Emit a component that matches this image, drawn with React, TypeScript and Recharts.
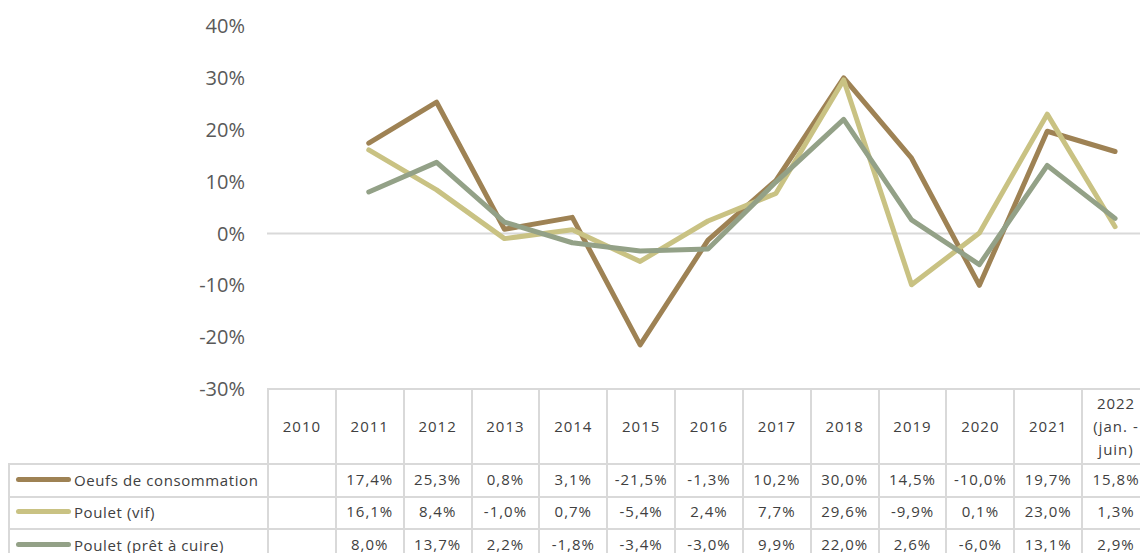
import React from "react";
import { LineChart, Line, XAxis, YAxis, ReferenceLine } from "recharts";

// categories (years) and header labels for the table
const years = ["2010", "2011", "2012", "2013", "2014", "2015", "2016", "2017", "2018", "2019", "2020", "2021", "2022"];
const headerLabels = ["2010", "2011", "2012", "2013", "2014", "2015", "2016", "2017", "2018", "2019", "2020", "2021", "2022\n(jan. -\njuin)"];

// yearly change, in %
const oeufs = [null, 17.4, 25.3, 0.8, 3.1, -21.5, -1.3, 10.2, 30.0, 14.5, -10.0, 19.7, 15.8];
const pouletVif = [null, 16.1, 8.4, -1.0, 0.7, -5.4, 2.4, 7.7, 29.6, -9.9, 0.1, 23.0, 1.3];
const pouletPac = [null, 8.0, 13.7, 2.2, -1.8, -3.4, -3.0, 9.9, 22.0, 2.6, -6.0, 13.1, 2.9];

const yTicks = [-30, -20, -10, 0, 10, 20, 30, 40];

const series = [
  { key: "oeufs", name: "Oeufs de consommation", color: "#9E8254", values: oeufs },
  { key: "vif", name: "Poulet (vif)", color: "#C9C283", values: pouletVif },
  { key: "pac", name: "Poulet (prêt à cuire)", color: "#93A187", values: pouletPac },
];

const data = years.map((y, i) => ({
  year: y,
  oeufs: oeufs[i],
  vif: pouletVif[i],
  pac: pouletPac[i],
}));

const FONT = "'Open Sans', 'Noto Sans', sans-serif";
const LEFT = 259; // width of the legend column / y axis area
const CHART_W = 1141;
const COL_W = (CHART_W - LEFT) / years.length;
const GRID = "2px solid #D9D9D9";
const rowHeights = [33, 32, 33];

const fmt = (v: number | null) => (v === null ? "" : `${v.toFixed(1).replace(".", ",")}%`);

export default function App() {
  return (
    <div
      style={{
        position: "fixed",
        top: 8,
        left: 8,
        width: 1132,
        height: 545,
        overflow: "hidden",
        fontFamily: FONT,
        background: "#fff",
      }}
    >
      <LineChart width={CHART_W} height={401} data={data} margin={{ top: 18, right: 0, bottom: 20, left: 0 }}>
        <XAxis dataKey="year" hide padding={{ left: COL_W / 2, right: COL_W / 2 }} />
        <YAxis
          width={LEFT}
          domain={[-30, 40]}
          ticks={yTicks}
          tickFormatter={(v) => `${v}%`}
          axisLine={false}
          tickLine={false}
          tickSize={0}
          tickMargin={22}
          tick={{ fontSize: 20, fill: "#595959", fontFamily: FONT }}
        />
        <ReferenceLine y={0} stroke="#D9D9D9" strokeWidth={2} />
        {series.map((s) => (
          <Line
            key={s.key}
            dataKey={s.key}
            stroke={s.color}
            strokeWidth={5}
            strokeLinecap="round"
            strokeLinejoin="round"
            dot={false}
            activeDot={false}
            isAnimationActive={false}
          />
        ))}
      </LineChart>
      <table
        style={{
          position: "absolute",
          top: 380,
          left: 0,
          borderCollapse: "collapse",
          tableLayout: "fixed",
          width: CHART_W,
          fontSize: 15,
          letterSpacing: 1,
          color: "#404040",
        }}
      >
        <colgroup>
          <col style={{ width: LEFT }} />
          {years.map((y) => (
            <col key={y} style={{ width: COL_W }} />
          ))}
        </colgroup>
        <tbody>
          <tr style={{ height: 75 }}>
            <td style={{ borderBottom: GRID }} />
            {headerLabels.map((h) => (
              <td
                key={h}
                style={{ border: GRID, textAlign: "center", whiteSpace: "pre-line", lineHeight: "23px", padding: 0 }}
              >
                {h}
              </td>
            ))}
          </tr>
          {series.map((s, r) => (
            <tr key={s.key} style={{ height: rowHeights[r] }}>
              <td
                style={{
                  border: GRID,
                  padding: "0 0 4px 0",
                  lineHeight: "18px",
                  whiteSpace: "nowrap",
                  fontSize: 15,
                  letterSpacing: 0.6,
                }}
              >
                <span
                  style={{
                    display: "inline-block",
                    width: 55,
                    height: 5,
                    borderRadius: 3,
                    background: s.color,
                    verticalAlign: "middle",
                    marginLeft: 6,
                    marginRight: 3,
                  }}
                />
                <span style={{ verticalAlign: "middle" }}>{s.name}</span>
              </td>
              {s.values.map((v, i) => (
                <td
                  key={i}
                  style={{ border: GRID, textAlign: "center", padding: "0 0 4px 0", lineHeight: "18px" }}
                >
                  {fmt(v)}
                </td>
              ))}
            </tr>
          ))}
        </tbody>
      </table>
    </div>
  );
}
